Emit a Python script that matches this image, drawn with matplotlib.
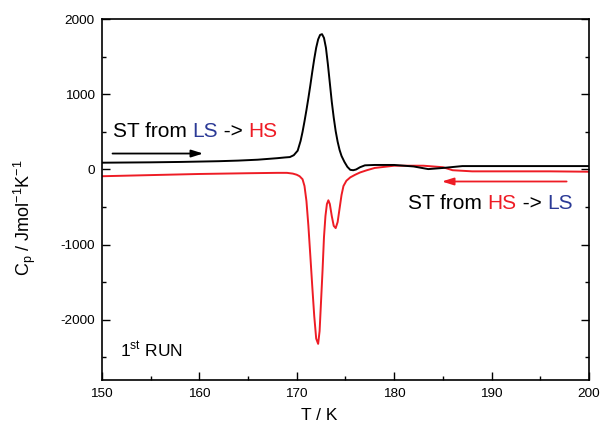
import numpy as np
import matplotlib
matplotlib.use("Agg")
import matplotlib.pyplot as plt
from matplotlib.ticker import MultipleLocator

plt.rcParams["font.family"] = ["Liberation Sans", "DejaVu Sans"]
plt.rcParams["mathtext.fontset"] = "custom"
plt.rcParams["mathtext.rm"] = "Liberation Sans"
plt.rcParams["axes.unicode_minus"] = False

# ---------------------------------------------------------
# Data
# ---------------------------------------------------------

# heating run (LS -> HS), black
heat_T = [150, 152, 155, 158, 160, 162, 164, 166, 167, 168, 168.8, 169.3,
          169.7, 170.1, 170.4, 170.6, 170.8, 171.0, 171.2, 171.4, 171.6,
          171.8, 172.0, 172.2, 172.4, 172.6, 172.8, 173.0, 173.2, 173.4,
          173.6, 173.8, 174.0, 174.2, 174.4, 174.6, 174.9, 175.2, 175.5,
          175.8, 176.1, 176.5, 177, 178, 180, 182, 183.5, 185, 187, 190,
          195, 200]
heat_cp = [90, 92, 95, 100, 105, 110, 118, 130, 140, 150, 160, 165,
           190, 250, 380, 500, 640, 790, 950, 1120, 1300,
           1470, 1620, 1730, 1790, 1800, 1750, 1620, 1400, 1150,
           900, 690, 510, 370, 260, 180, 100, 35, -5,
           -10, 0, 30, 55, 60, 60, 40, 5, 20, 45, 45,
           45, 45]

# cooling run (HS -> LS), red
cool_T = [150, 155, 160, 165, 168, 169.0, 169.6, 170.0, 170.3, 170.6, 170.8,
          171.0, 171.2, 171.4, 171.6, 171.8, 172.0, 172.2, 172.35, 172.5,
          172.65, 172.8, 172.95, 173.1, 173.25, 173.4, 173.6, 173.8, 174.0,
          174.2, 174.4, 174.6, 174.8, 175.1, 175.5, 176.0, 176.5, 177.2,
          178, 180, 183, 185, 186, 188, 192, 196, 200]
cool_cp = [-90, -75, -60, -50, -45, -45, -55, -70, -90, -130, -220,
           -420, -750, -1150, -1560, -1950, -2250, -2320, -2150, -1750,
           -1350, -900, -620, -460, -410, -460, -620, -750, -780,
           -700, -520, -340, -220, -150, -105, -70, -40, -10,
           20, 50, 50, 30, -10, -25, -25, -25, -30]

RED = "#ee1c25"
BLUE = "#2b3a96"
TXT = 15

# ---------------------------------------------------------
# Plot
# ---------------------------------------------------------

fig = plt.figure(figsize=(6.06, 4.25), dpi=100)
ax = fig.add_axes([0.168, 0.106, 0.804, 0.849])

ax.plot(cool_T, cool_cp, color=RED, linewidth=1.4)
ax.plot(heat_T, heat_cp, color="black", linewidth=1.4)

ax.set_xlim(150, 200)
ax.set_ylim(-2800, 2000)

ax.xaxis.set_major_locator(MultipleLocator(10))
ax.xaxis.set_minor_locator(MultipleLocator(5))
ax.yaxis.set_major_locator(MultipleLocator(1000))
ax.yaxis.set_minor_locator(MultipleLocator(500))

ax.tick_params(which="both", direction="in", right=True, top=False, labelsize=9.7)
ax.tick_params(which="major", length=5.8, width=1.0)
ax.tick_params(which="minor", length=3.2, width=1.0)
ax.tick_params(axis="x", pad=6)
ax.tick_params(axis="y", pad=5)

for sp in ax.spines.values():
    sp.set_linewidth(1.2)

ax.set_xlabel("T / K", fontsize=12.5)
ax.set_ylabel(r"C$_\mathregular{p}$ / Jmol$^\mathregular{-1}$K$^\mathregular{-1}$", fontsize=13)
ax.xaxis.set_label_coords(0.446, -0.078)
ax.yaxis.set_label_coords(-0.130, 0.45)

# heating annotation
t1 = ax.text(151.1, 510, "ST from ", fontsize=TXT, va="center", ha="left")
t2 = ax.annotate("LS", xy=(1, 0), xycoords=t1, va="bottom", ha="left",
                 fontsize=TXT, color=BLUE)
t3 = ax.annotate(" -> ", xy=(1, 0), xycoords=t2, va="bottom", ha="left",
                 fontsize=TXT, color="black")
ax.annotate("HS", xy=(1, 0), xycoords=t3, va="bottom", ha="left",
            fontsize=TXT, color=RED)
ax.annotate("", xy=(160.4, 212), xytext=(151.1, 212),
            arrowprops=dict(arrowstyle="-|>,head_length=0.7,head_width=0.22",
                            color="black", lw=1.3,
                            mutation_scale=10, shrinkA=0, shrinkB=0))

# cooling annotation
s1 = ax.text(181.4, -450, "ST from ", fontsize=TXT, va="center", ha="left")
s2 = ax.annotate("HS", xy=(1, 0), xycoords=s1, va="bottom", ha="left",
                 fontsize=TXT, color=RED)
s3 = ax.annotate(" -> ", xy=(1, 0), xycoords=s2, va="bottom", ha="left",
                 fontsize=TXT, color="black")
ax.annotate("LS", xy=(1, 0), xycoords=s3, va="bottom", ha="left",
            fontsize=TXT, color=BLUE)
ax.annotate("", xy=(184.9, -160), xytext=(197.7, -160),
            arrowprops=dict(arrowstyle="-|>,head_length=0.7,head_width=0.22",
                            color=RED, lw=1.3,
                            mutation_scale=10, shrinkA=0, shrinkB=0))

ax.text(151.85, -2400, r"1$^\mathregular{st}$ RUN", fontsize=12.5, va="center", ha="left")

fig.savefig("out.png", dpi=100)
plt.close(fig)
